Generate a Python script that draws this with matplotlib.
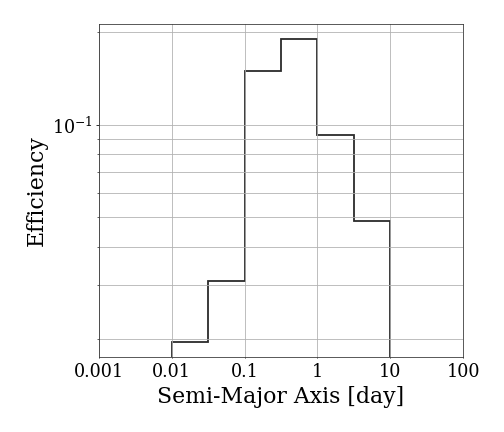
import numpy as np
import matplotlib
matplotlib.use("Agg")
import matplotlib.pyplot as plt

# half-decade bins in semi-major axis
bin_edges = [0.01, 0.0316, 0.1, 0.316, 1.0, 3.16, 10.0]
efficiency = [0.0196, 0.0309, 0.150, 0.190, 0.0923, 0.0485]
xtick_vals = [0.001, 0.01, 0.1, 1, 10, 100]
xtick_labels = ["0.001", "0.01", "0.1", "1", "10", "100"]

plt.rcParams['font.family'] = 'DejaVu Serif'
plt.rcParams['mathtext.fontset'] = 'dejavuserif'

fig = plt.figure(figsize=(7, 6), dpi=72)
ax = fig.add_axes([0.196, 0.174, 0.723, 0.770])

ax.stairs(efficiency, bin_edges, baseline=1e-3, color='#2a2a2a', linewidth=1.8)

ax.set_xscale('log')
ax.set_yscale('log')
ax.set_xlim(0.001, 100)
lo, hi = np.log10(min(efficiency)), np.log10(max(efficiency))
pad = 0.05 * (hi - lo)
ax.set_ylim(10 ** (lo - pad), 10 ** (hi + pad))

ax.set_xticks(xtick_vals)
ax.set_xticklabels(xtick_labels)
ax.xaxis.set_minor_locator(matplotlib.ticker.NullLocator())
ax.tick_params(axis='x', which='major', length=1, pad=5.5, labelsize=17.5)
ax.tick_params(axis='y', which='major', length=3, labelsize=17.5)
ax.tick_params(axis='y', which='minor', length=2)

ax.grid(True, which='major', color='#b0b0b0', linewidth=0.8)
ax.grid(True, which='minor', axis='y', color='#b0b0b0', linewidth=0.8)
for s in ax.spines.values():
    s.set_color('#333333')

ax.set_xlabel('Semi-Major Axis [day]', fontsize=22, labelpad=5)
ax.set_ylabel('Efficiency', fontsize=22)

fig.savefig('out.png', dpi=72)
